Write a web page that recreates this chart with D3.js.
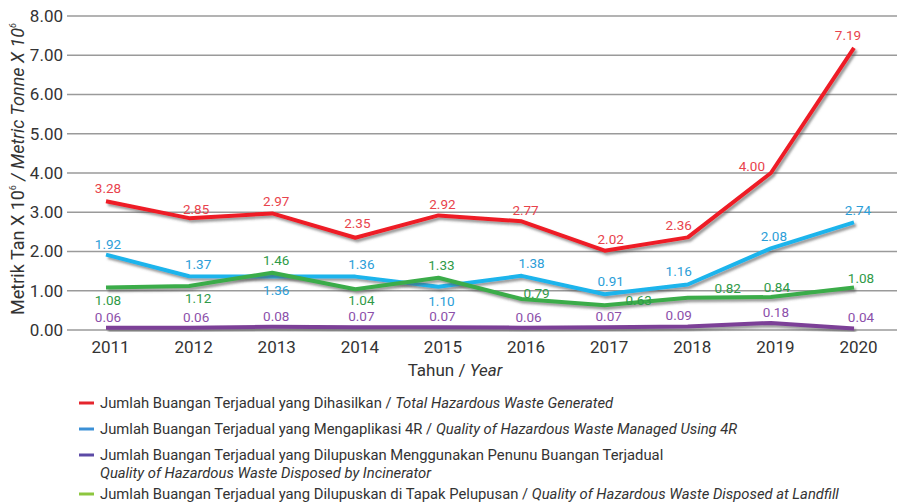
<!DOCTYPE html>
<html>
<head>
<meta charset="utf-8">
<script src="https://cdn.jsdelivr.net/npm/d3@7/dist/d3.min.js"></script>
<style>
  body { margin: 0; background: #fff; }
  svg { display: block; font-family: Roboto, "DejaVu Sans", sans-serif; }
</style>
</head>
<body>
<svg id="chart" width="897" height="504"></svg>
<script>
const years = [2011, 2012, 2013, 2014, 2015, 2016, 2017, 2018, 2019, 2020];
const yTicks = [0, 1, 2, 3, 4, 5, 6, 7, 8];

const generated = [3.28, 2.85, 2.97, 2.35, 2.92, 2.77, 2.02, 2.36, 4.00, 7.19];
const managed4R = [1.92, 1.37, 1.36, 1.36, 1.10, 1.38, 0.91, 1.16, 2.08, 2.74];
const incinerator = [0.06, 0.06, 0.08, 0.07, 0.07, 0.06, 0.07, 0.09, 0.18, 0.04];
const landfill = [1.08, 1.12, 1.46, 1.04, 1.33, 0.79, 0.63, 0.82, 0.84, 1.08];

// label nudges (dx, dy from the point), kept apart from the values
const labelNudge = {
  generated: [[2, -8], [7, -4], [4, -7], [2, -10], [4, -6], [4, -6], [6, -7], [-9, -7], [-19, -2], [-6, -8]],
  managed4R: [[2, -6], [9, -7], [4, 18], [6, -8], [3, 19], [10, -8], [6, -8], [-9, -8], [3, -7], [4, -7]],
  incinerator: [[2, -6], [7, -6], [4, -6], [6, -6], [4, -6], [7, -6], [4, -6], [-9, -6], [5, -6], [7, -6]],
  landfill: [[2, 17], [9, 17], [4, -8], [6, 16], [3, -8], [15, -1], [34, 0], [40, -5], [6, -5], [7, -5]]
};

const series = [
  {key: "generated", values: generated, line: "#ee1c25", text: "#e8434c"},
  {key: "managed4R", values: managed4R, line: "#1ab4ec", text: "#2b9ed8"},
  {key: "landfill", values: landfill, line: "#3aac4a", text: "#2f9a48"},
  {key: "incinerator", values: incinerator, line: "#7c3f97", text: "#8c50aa"}
];

const legendItems = [
  {color: "#e5252d", ms: "Jumlah Buangan Terjadual yang Dihasilkan / ", en: "Total Hazardous Waste Generated"},
  {color: "#3b90d6", ms: "Jumlah Buangan Terjadual yang Mengaplikasi 4R / ", en: "Quality of Hazardous Waste Managed Using 4R"},
  {color: "#5c4aa6", ms: "Jumlah Buangan Terjadual yang Dilupuskan Menggunakan Penunu Buangan Terjadual", en: "Quality of Hazardous Waste Disposed by Incinerator", wrap: true},
  {color: "#8dc63f", ms: "Jumlah Buangan Terjadual yang Dilupuskan di Tapak Pelupusan / ", en: "Quality of Hazardous Waste Disposed at Landfill"}
];

const svg = d3.select("#chart");

const defs = svg.append("defs");
const shadow = defs.append("filter").attr("id", "shadow")
  .attr("x", "-10%").attr("y", "-50%").attr("width", "120%").attr("height", "200%");
shadow.append("feDropShadow")
  .attr("dx", 2).attr("dy", 2.5).attr("stdDeviation", 1.3)
  .attr("flood-color", "#555").attr("flood-opacity", 0.6);

const x = d3.scalePoint().domain(years).range([106, 854]);
const y = d3.scaleLinear().domain([0, 8]).range([330, 16]);

// gridlines
svg.append("g")
  .selectAll("line")
  .data(yTicks)
  .enter()
  .append("line")
  .attr("x1", 67).attr("x2", 897)
  .attr("y1", d => y(d)).attr("y2", d => y(d))
  .attr("stroke", "#9a9a9a")
  .attr("stroke-width", 1.3);

// y axis labels
const yAxis = svg.append("g")
  .attr("transform", "translate(63,0)")
  .call(d3.axisLeft(y).tickValues(yTicks).tickFormat(d3.format(".2f")).tickSize(0).tickPadding(0));
yAxis.select(".domain").remove();
yAxis.selectAll("text")
  .style("font-size", "17px")
  .style("font-family", "Roboto, sans-serif")
  .attr("fill", "#333");

// x axis labels
const xAxis = svg.append("g")
  .attr("transform", "translate(4,341)")
  .call(d3.axisBottom(x).tickSize(0).tickPadding(0));
xAxis.select(".domain").remove();
xAxis.selectAll("text")
  .style("font-size", "17px")
  .style("font-family", "Roboto, sans-serif")
  .attr("fill", "#333");

// axis titles
const xTitle = svg.append("text")
  .attr("x", 455).attr("y", 376)
  .attr("text-anchor", "middle")
  .attr("fill", "#333")
  .style("font-size", "17px");
xTitle.append("tspan").text("Tahun / ");
xTitle.append("tspan").attr("font-style", "italic").text("Year");

const yTitle = svg.append("text")
  .attr("transform", "translate(24,169) rotate(-90)")
  .attr("text-anchor", "middle")
  .attr("fill", "#333")
  .style("font-size", "18px");
yTitle.append("tspan").text("Metrik Tan X 10");
yTitle.append("tspan").attr("dy", -8).style("font-size", "9px").text("6");
yTitle.append("tspan").attr("dy", 8).attr("font-style", "italic").text(" / Metric Tonne X 10");
yTitle.append("tspan").attr("dy", -8).attr("font-style", "italic").style("font-size", "9px").text("6");

// lines
const line = d3.line()
  .x((d, i) => x(years[i]))
  .y(d => y(d));

svg.append("g")
  .selectAll("path")
  .data(series)
  .enter()
  .append("path")
  .attr("d", s => line(s.values))
  .attr("fill", "none")
  .attr("stroke", s => s.line)
  .attr("stroke-width", 4)
  .attr("stroke-linejoin", "round")
  .attr("filter", "url(#shadow)");

// value labels
series.forEach(s => {
  svg.append("g")
    .selectAll("text")
    .data(s.values)
    .enter()
    .append("text")
    .attr("x", (d, i) => x(years[i]) + labelNudge[s.key][i][0])
    .attr("y", (d, i) => y(d) + labelNudge[s.key][i][1])
    .attr("text-anchor", "middle")
    .attr("fill", s.text)
    .style("font-size", "13.5px")
    .text(d => d.toFixed(2));
});

// legend
const rowY = [403, 429, 455, 494];
const legend = svg.append("g");
legendItems.forEach((item, i) => {
  const g = legend.append("g").attr("transform", "translate(0," + rowY[i] + ")");
  g.append("line")
    .attr("x1", 79).attr("x2", 94)
    .attr("y1", 0).attr("y2", 0)
    .attr("stroke", item.color)
    .attr("stroke-width", 3);
  const t = g.append("text")
    .attr("x", 100).attr("y", 5)
    .attr("fill", "#333")
    .style("font-size", "14.8px");
  t.append("tspan").text(item.ms);
  if (item.wrap) {
    t.append("tspan").attr("x", 100).attr("dy", 18).attr("font-style", "italic").text(item.en);
  } else {
    t.append("tspan").attr("font-style", "italic").text(item.en);
  }
});
</script>
</body>
</html>
